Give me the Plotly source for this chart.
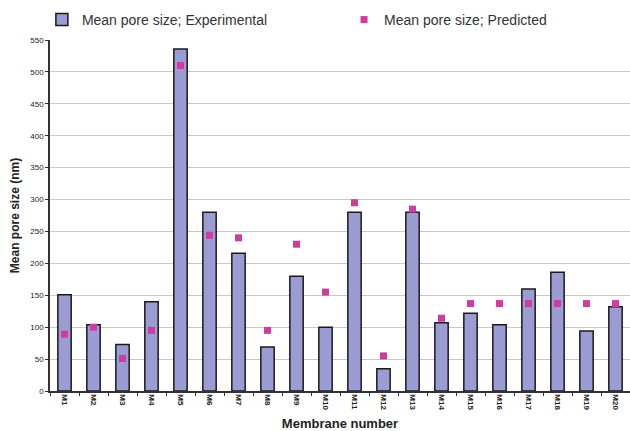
import plotly.graph_objects as go

categories = [f"M{i}" for i in range(1, 21)]
experimental = [151, 104, 73, 140, 536, 280, 216, 69, 180, 100,
                280, 35, 280, 107, 122, 104, 160, 186, 94, 132]
predicted = [89, 100, 51, 95, 510, 244, 240, 95, 230, 155,
             295, 55, 285, 114, 137, 137, 137, 137, 137, 137]
y_ticks = list(range(0, 551, 50))

fig = go.Figure()
fig.add_trace(go.Bar(
    x=categories, y=experimental, name="Mean pore size; Experimental",
    marker=dict(color="#9C9CD4", line=dict(color="#1a1a1a", width=1.5)),
    legend="legend",
))
fig.add_trace(go.Scatter(
    x=categories, y=predicted, name="Mean pore size; Predicted", mode="markers",
    marker=dict(symbol="square", color="#CC3D9E", size=7),
    legend="legend2",
))

leg_common = dict(orientation="h", yanchor="middle", y=1.057, xanchor="left",
                  font=dict(size=14, color="#333"), itemwidth=30,
                  bgcolor="rgba(0,0,0,0)")
fig.update_layout(
    width=630, height=431,
    margin=dict(l=50, r=0, t=40, b=40, autoexpand=False),
    paper_bgcolor="white", plot_bgcolor="white",
    font=dict(family="Liberation Sans, Arial, sans-serif", color="#222"),
    bargap=0.54,
    showlegend=True,
    legend=dict(x=-0.014, **leg_common),
    legend2=dict(x=0.507, **leg_common),
)
fig.update_xaxes(
    tickangle=90, tickfont=dict(size=8, color="#222", weight="bold"),
    tickson="boundaries", ticks="outside", ticklen=3, tickcolor="#333",
    showline=True, linecolor="#333", linewidth=1.5,
    title=dict(text="<b>Membrane number</b>", font=dict(size=13, color="#222"), standoff=12),
    range=[-0.5, 19.5],
)
fig.update_yaxes(
    range=[0, 550], tickvals=y_ticks, tickfont=dict(size=8, color="#222"),
    ticks="outside", ticklen=3, tickcolor="#333",
    showline=True, linecolor="#333", linewidth=1.5,
    showgrid=True, gridcolor="#C8C8C8", gridwidth=1,
    title=dict(text="<b>Mean pore size (nm)</b>", font=dict(size=12, color="#222"), standoff=8),
)
fig.write_html("out.html")
